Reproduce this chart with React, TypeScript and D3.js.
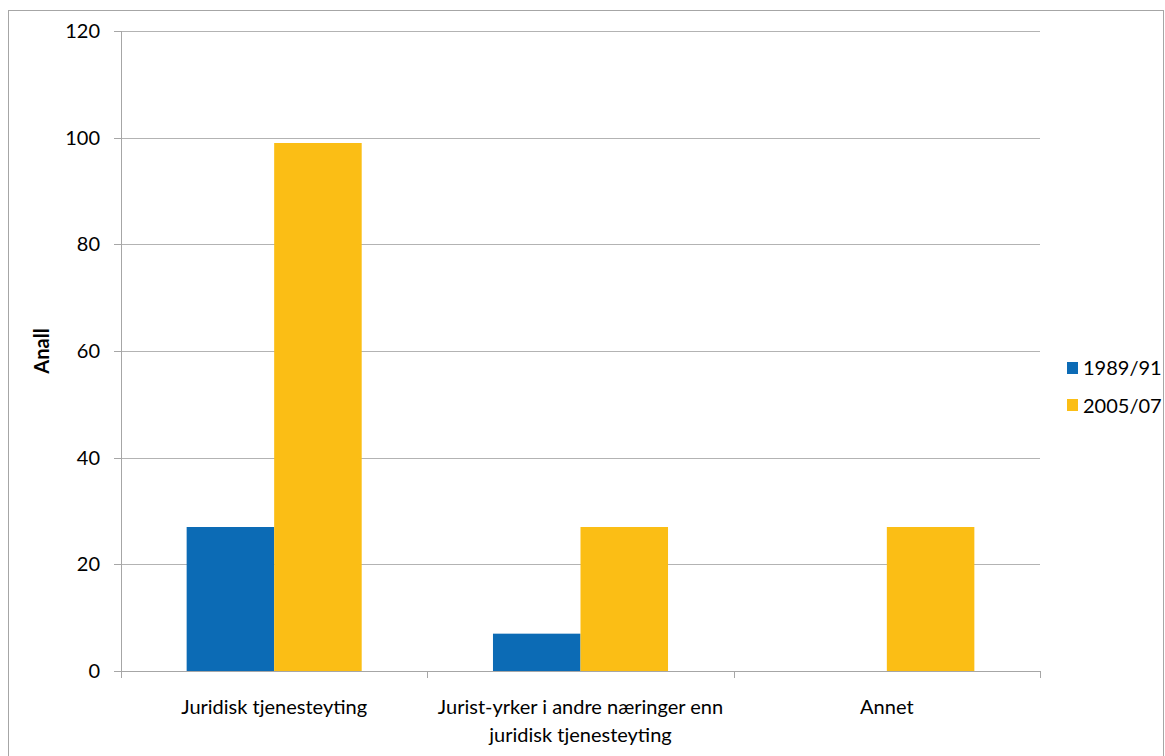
import React from "react";
import * as d3 from "d3";

const categories = ["Juridisk tjenesteyting", "Jurist-yrker i andre næringer enn juridisk tjenesteyting", "Annet"];
const categoryLines = [["Juridisk tjenesteyting"], ["Jurist-yrker i andre næringer enn", "juridisk tjenesteyting"], ["Annet"]];
const seriesNames = ["1989/91", "2005/07"];
const series1989 = [27, 7, 0];
const series2005 = [99, 27, 27];
const yTicks = [0, 20, 40, 60, 80, 100, 120];
const colors = ["#0c6bb5", "#fbbe15"];

export default function App() {
  const W = 1165, H = 756;
  const left = 121, right = 1040, top = 31, bottom = 671;
  const font = "Lato, 'Open Sans', sans-serif";
  const fs = 20;
  const x = d3.scaleBand<string>().domain(categories).range([left, right]).paddingInner(0).paddingOuter(0);
  const y = d3.scaleLinear().domain([0, 120]).range([bottom, top]);
  const data = [series1989, series2005];
  const bw = x.bandwidth();
  const barW = bw / 3.5;
  const boundaries = [left, ...categories.map((c) => (x(c) as number) + bw)];
  return (
    <svg width={W} height={H} style={{ position: "absolute", left: 0, top: 0 }}>
      <rect x={8.5} y={10.5} width={1155} height={760} fill="white" stroke="#a6a6a6" strokeWidth={1} />
      {yTicks.map((t) => (
        <g key={t}>
          {t > 0 && <line x1={left} x2={right} y1={Math.round(y(t)) + 0.5} y2={Math.round(y(t)) + 0.5} stroke="#b3b3b3" />}
          <line x1={left - 7} x2={left} y1={Math.round(y(t)) + 0.5} y2={Math.round(y(t)) + 0.5} stroke="#a6a6a6" />
          <text x={100} y={y(t) + 7} textAnchor="end" fontFamily={font} fontSize={fs} fill="#000">{t}</text>
        </g>
      ))}
      {categories.map((c, ci) =>
        data.map((s, si) => {
          const v = s[ci];
          if (v <= 0) return null;
          const bx = (x(c) as number) + barW * 0.75 + si * barW;
          return <rect key={c + si} x={bx} y={y(v)} width={barW} height={y(0) - y(v)} fill={colors[si]} />;
        })
      )}
      <line x1={left + 0.5} x2={left + 0.5} y1={top} y2={bottom} stroke="#a6a6a6" />
      <line x1={left} x2={right} y1={bottom + 0.5} y2={bottom + 0.5} stroke="#a6a6a6" />
      {boundaries.map((b, i) => (
        <line key={i} x1={Math.round(b) + 0.5} x2={Math.round(b) + 0.5} y1={bottom} y2={bottom + 7} stroke="#a6a6a6" />
      ))}
      {categories.map((c, ci) => (
        <text key={c} x={(x(c) as number) + bw / 2} y={714} textAnchor="middle" fontFamily={font} fontSize={fs} fill="#000">
          {categoryLines[ci].map((l, li) => (
            <tspan key={li} x={(x(c) as number) + bw / 2} dy={li === 0 ? 0 : 28}>{l}</tspan>
          ))}
        </text>
      ))}
      <text transform={`translate(49,351) rotate(-90)`} textAnchor="middle" fontFamily={font} fontSize={fs} fontWeight="bold" fill="#000">Anall</text>
      {seriesNames.map((n, i) => (
        <g key={n}>
          <rect x={1067} y={362 + i * 37} width={11} height={12} fill={colors[i]} />
          <text x={1083} y={375 + i * 38} fontFamily={font} fontSize={fs} fill="#000">{n}</text>
        </g>
      ))}
    </svg>
  );
}
